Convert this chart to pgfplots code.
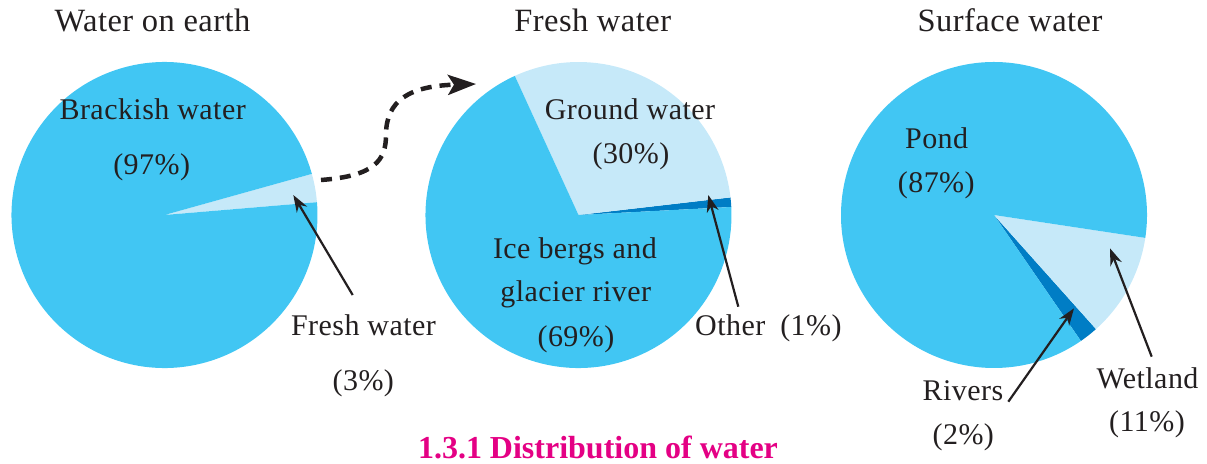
\documentclass[border=0pt]{standalone}
\usepackage{fontspec}
\setmainfont{Liberation Serif}
\usepackage{pgfplots}
\usepackage{pgfplotstable}
\pgfplotsset{compat=1.18}
\usetikzlibrary{arrows.meta}

\definecolor{pieMain}{RGB}{65,198,243}
\definecolor{pieLight}{RGB}{198,233,249}
\definecolor{pieDark}{RGB}{0,125,197}
\definecolor{ink}{RGB}{35,31,32}
\definecolor{capt}{RGB}{228,0,132}

\newcommand\bodyfont{\fontsize{30}{34}\selectfont\addfontfeatures{LetterSpace=1.5}}
\newcommand\titlefont{\fontsize{32.5}{38}\selectfont\addfontfeatures{LetterSpace=1.5}}
\newcommand\captfont{\fontsize{32}{38}\selectfont\bfseries}

% slices listed counter-clockwise from the start angle
\pgfplotstableread{
part value colour
Fresh 3 pieLight
Brackish 97 pieMain
}\earthtab
\pgfplotstableread{
part value colour
Other 1 pieDark
Ground 30 pieLight
Ice 69 pieMain
}\freshtab
\pgfplotstableread{
part value colour
Rivers 2 pieDark
Wetland 11 pieLight
Pond 87 pieMain
}\surfacetab

% #1 table, #2 cx, #3 cy, #4 radius (pt), #5 start angle
\newcommand\drawpie[5]{%
  \pgfplotstablegetrowsof{#1}%
  \pgfmathtruncatemacro\pielast{\pgfplotsretval-1}%
  \xdef\pieang{#5}%
  \foreach \k in {0,...,\pielast}{%
    \pgfplotstablegetelem{\k}{value}\of{#1}%
    \pgfmathsetmacro\pieend{\pieang+3.6*\pgfplotsretval}%
    \pgfplotstablegetelem{\k}{colour}\of{#1}%
    \edef\piecmd{\noexpand\fill[\pgfplotsretval] (axis cs:#2,#3) -- ++(\pieang:#4pt) arc[start angle=\pieang, end angle=\pieend, radius=#4pt] -- cycle;}%
    \piecmd
    \xdef\pieang{\pieend}%
  }%
}

\begin{document}
\begin{tikzpicture}
\begin{axis}[
  name=ax,
  x=1pt, y=1pt,
  xmin=0, xmax=1207, ymin=0, ymax=463,
  y dir=reverse,
  hide axis, clip=false,
]
\drawpie{\earthtab}{164.5}{215}{153}{4.8}
\drawpie{\freshtab}{578.5}{215}{153}{3}
\drawpie{\surfacetab}{994}{215}{153}{-55.4}

% titles
\node[anchor=base, font=\titlefont, text=ink] at (axis cs:152.5,31.7) {Water on earth};
\node[anchor=base, font=\titlefont, text=ink] at (axis cs:592.7,31.7) {Fresh water};
\node[anchor=base, font=\titlefont, text=ink] at (axis cs:1010,31.7) {Surface water};

% pie 1 labels
\node[anchor=base, font=\bodyfont, text=ink] at (axis cs:152.7,119.3) {Brackish water};
\node[anchor=base, font=\bodyfont, text=ink] at (axis cs:151.7,174) {(97\%)};
\node[anchor=base, font=\bodyfont, text=ink] at (axis cs:363.5,335) {Fresh water};
\node[anchor=base, font=\bodyfont, text=ink] at (axis cs:363.3,390) {(3\%)};
\draw[ink, line width=2.2pt, -{Stealth[length=17pt,width=12pt]}] (axis cs:352.7,295) -- (axis cs:293.3,195);

% pie 2 labels
\node[anchor=base, font=\bodyfont, text=ink] at (axis cs:630,119.3) {Ground water};
\node[anchor=base, font=\bodyfont, text=ink] at (axis cs:631,163.3) {(30\%)};
\node[anchor=base, font=\bodyfont, text=ink] at (axis cs:575,258.3) {Ice bergs and};
\node[anchor=base, font=\bodyfont, text=ink] at (axis cs:575.8,301.7) {glacier river};
\node[anchor=base, font=\bodyfont, text=ink] at (axis cs:576,346.7) {(69\%)};
\node[anchor=base west, inner sep=0pt, font=\bodyfont, text=ink] at (axis cs:695,335) {Other\hspace{15pt}(1\%)};
\draw[ink, line width=2.2pt, -{Stealth[length=17pt,width=12pt]}] (axis cs:738.3,306.7) -- (axis cs:708.3,195);

% pie 3 labels
\node[anchor=base, font=\bodyfont, text=ink] at (axis cs:936.7,148.3) {Pond};
\node[anchor=base, font=\bodyfont, text=ink] at (axis cs:936.3,192.7) {(87\%)};
\node[anchor=base, font=\bodyfont, text=ink] at (axis cs:963,400) {Rivers};
\node[anchor=base, font=\bodyfont, text=ink] at (axis cs:963.3,444) {(2\%)};
\node[anchor=base, font=\bodyfont, text=ink] at (axis cs:1147.5,388.3) {Wetland};
\node[anchor=base, font=\bodyfont, text=ink] at (axis cs:1147,431.7) {(11\%)};
\draw[ink, line width=2.2pt, -{Stealth[length=17pt,width=12pt]}] (axis cs:1008.3,401.7) -- (axis cs:1074,308.3);
\draw[ink, line width=2.2pt, -{Stealth[length=17pt,width=12pt]}] (axis cs:1151.7,356.7) -- (axis cs:1110,248.3);

% dashed connector
\draw[ink, line width=4.5pt, dash pattern=on 11pt off 8pt, -{Stealth[length=28pt,width=20pt,inset=6pt]}]
  (axis cs:321,180) .. controls (axis cs:375,176) and (axis cs:386,160) .. (axis cs:386,135)
  .. controls (axis cs:386,100) and (axis cs:410,86) .. (axis cs:476,84);

% caption
\node[anchor=base, font=\captfont, text=capt] at (axis cs:598,458.3) {1.3.1 Distribution of water};
\end{axis}
\pgfresetboundingbox
\path[use as bounding box] (ax.south west) rectangle (ax.north east);
\end{tikzpicture}
\end{document}
